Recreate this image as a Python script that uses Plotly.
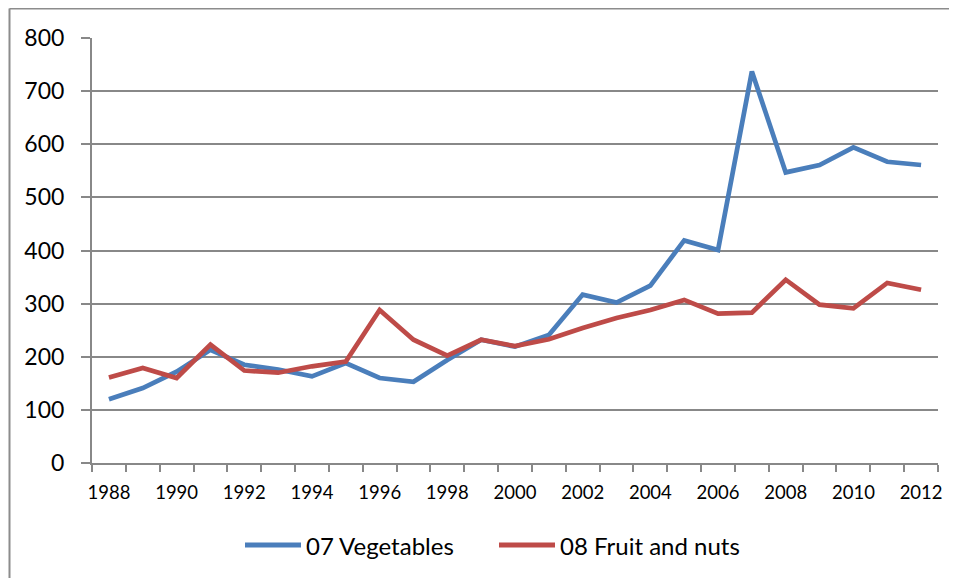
import plotly.graph_objects as go

years = list(range(1988, 2013))
vegetables = [120, 141, 172, 213, 185, 176, 163, 188, 160, 153, 194, 232, 219,
              241, 317, 302, 334, 419, 401, 737, 547, 561, 594, 567, 561]
fruit_nuts = [161, 179, 160, 223, 174, 170, 182, 191, 288, 232, 202, 232, 220,
              233, 254, 273, 288, 307, 281, 283, 345, 298, 291, 339, 326]
series_names = ["07 Vegetables", "08 Fruit and nuts"]
colors = ["#4A7EBB", "#BE4B48"]
x_tick_labels = years[::2]
y_ticks = list(range(0, 801, 100))

W, H = 957, 578
OFF = 8  # default page body margin
# target plot area in page pixels
PL, PR, PT, PB = 92, 938, 38, 463
L, T = PL - OFF, PT - OFF
R, B = W - (PR - OFF), H - (PB - OFF)
PW, PH = PR - PL, PB - PT


def px_x(p):
    return (p - PL) / PW


def px_y(p):
    return (PB - p) / PH


GRID = "#888888"
FONT = "Lato"

fig = go.Figure()
for name, vals, col in zip(series_names, [vegetables, fruit_nuts], colors):
    fig.add_trace(go.Scatter(x=years, y=vals, mode="lines", name=name,
                             line=dict(color=col, width=4.7),
                             showlegend=False))

fig.update_layout(
    width=W, height=H,
    margin=dict(l=L, r=R, t=T, b=B, pad=0),
    paper_bgcolor="white", plot_bgcolor="white",
    font=dict(family=FONT, color="black"),
    xaxis=dict(
        range=[years[0] - 0.5, years[-1] + 0.5],
        tickvals=x_tick_labels, ticktext=[str(v) for v in x_tick_labels],
        ticks="", showgrid=False, zeroline=False,
        showline=True, linecolor=GRID, linewidth=2,
        tickfont=dict(size=18.5, family=FONT, color="black"),
        ticklabelstandoff=12,
        minor=dict(tickvals=[y - 0.5 for y in years] + [years[-1] + 0.5],
                   ticks="outside", ticklen=7, tickcolor=GRID, tickwidth=1.5,
                   showgrid=False),
    ),
    yaxis=dict(
        range=[0, 800], tickvals=y_ticks,
        showgrid=True, gridcolor=GRID, gridwidth=1.5,
        zeroline=False, showline=True, linecolor=GRID, linewidth=2,
        ticks="outside", ticklen=9, tickcolor=GRID, tickwidth=1.5,
        tickfont=dict(size=23, family=FONT, color="black"),
        ticklabelstandoff=12,
    ),
)

# outer chart-area border (left and top edges visible)
fig.add_shape(type="line", xref="paper", yref="paper",
              x0=px_x(9.5), x1=px_x(9.5), y0=px_y(8.5), y1=px_y(600),
              line=dict(color="#8C8C8C", width=2))
fig.add_shape(type="line", xref="paper", yref="paper",
              x0=px_x(9.5), x1=px_x(975), y0=px_y(8.5), y1=px_y(8.5),
              line=dict(color="#8C8C8C", width=2))

# legend (drawn manually to match long Excel swatches)
legend_items = [(245, 301, 304), (499, 555, 558)]
for (x0, x1, xt), name, col in zip(legend_items, series_names, colors):
    fig.add_shape(type="line", xref="paper", yref="paper",
                  x0=px_x(x0), x1=px_x(x1), y0=px_y(545), y1=px_y(545),
                  line=dict(color=col, width=5))
    fig.add_annotation(xref="paper", yref="paper", x=px_x(xt), y=px_y(545),
                       text=name, showarrow=False, xanchor="left",
                       yanchor="middle",
                       font=dict(size=24, family=FONT, color="black"))

fig.write_html("out.html")
